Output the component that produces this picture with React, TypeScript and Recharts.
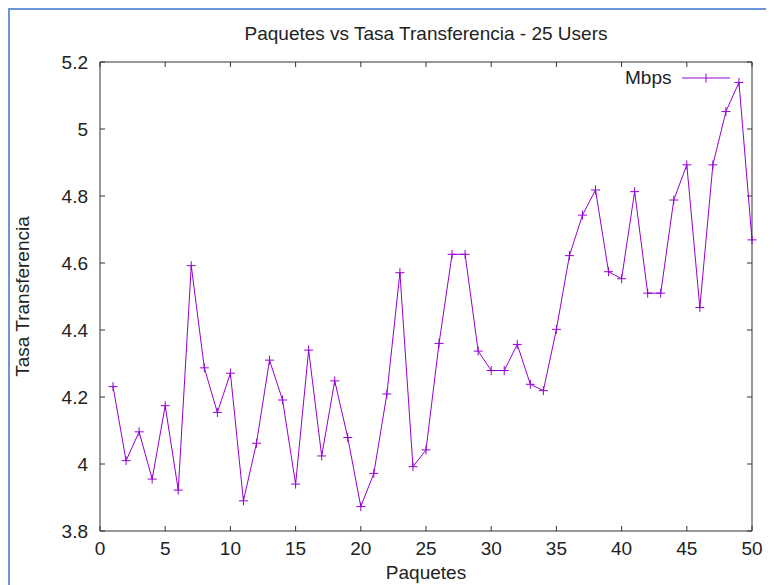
import { LineChart, Line, XAxis, YAxis, Legend } from 'recharts'

const paquetes = [
  1, 2, 3, 4, 5, 6, 7, 8, 9, 10, 11, 12, 13, 14, 15, 16, 17, 18, 19, 20, 21, 22, 23, 24, 25,
  26, 27, 28, 29, 30, 31, 32, 33, 34, 35, 36, 37, 38, 39, 40, 41, 42, 43, 44, 45, 46, 47, 48, 49, 50,
]

const mbps = [
  4.231, 4.01, 4.096, 3.955, 4.174, 3.922, 4.592, 4.287, 4.154, 4.271,
  3.89, 4.062, 4.31, 4.191, 3.94, 4.34, 4.024, 4.248, 4.079, 3.873,
  3.972, 4.209, 4.571, 3.992, 4.042, 4.36, 4.626, 4.626, 4.337, 4.279,
  4.279, 4.357, 4.238, 4.219, 4.402, 4.622, 4.743, 4.818, 4.574, 4.553,
  4.813, 4.51, 4.51, 4.788, 4.893, 4.467, 4.893, 5.052, 5.139, 4.669,
]

const xTicks = [0, 5, 10, 15, 20, 25, 30, 35, 40, 45, 50]
const yTicks = [3.8, 4, 4.2, 4.4, 4.6, 4.8, 5, 5.2]

const TITLE = 'Paquetes vs Tasa Transferencia - 25 Users'
const X_LABEL = 'Paquetes'
const Y_LABEL = 'Tasa Transferencia'
const SERIES_NAME = 'Mbps'

const PURPLE = '#9400d3'
const INK = '#222'
const FRAME = '#333'
const FONT = '"Liberation Sans", Arial, sans-serif'

const data = paquetes.map((p, i) => ({ paquete: p, mbps: mbps[i] }))

// gnuplot-style "+" point marker
function PlusDot(props: any) {
  const { cx, cy, index } = props
  if (cx == null || cy == null) return <g key={index} />
  const s = 4.5
  return (
    <path
      key={index}
      d={`M${cx - s},${cy}H${cx + s}M${cx},${cy - s}V${cy + s}`}
      stroke={PURPLE}
      strokeWidth={1}
      fill="none"
    />
  )
}

function LegendBox() {
  return (
    <div style={{ display: 'flex', alignItems: 'center', height: 20, fontFamily: FONT, fontSize: 19, color: INK }}>
      <span>{SERIES_NAME}</span>
      <svg width={60} height={20} style={{ marginLeft: 8 }}>
        <line x1={3} y1={10} x2={51} y2={10} stroke={PURPLE} strokeWidth={1} />
        <path d="M27,5.5V14.5" stroke={PURPLE} strokeWidth={1} />
      </svg>
    </div>
  )
}

const tickStyle = { fill: INK, fontSize: 19, fontFamily: FONT }
const blank = () => ''

export default function App() {
  return (
    <div style={{ position: 'relative', width: 766, height: 577 }}>
      <div
        style={{
          position: 'absolute',
          inset: 0,
          borderLeft: '2px solid #6b97d8',
          borderTop: '2px solid #6b97d8',
          pointerEvents: 'none',
        }}
      />
      <LineChart width={766} height={577} data={data} margin={{ top: 53, right: 21, bottom: 53, left: 91 }}>
        <XAxis
          dataKey="paquete"
          type="number"
          domain={[0, 50]}
          ticks={xTicks}
          height={1}
          tickSize={-5}
          tickMargin={15.5}
          tick={tickStyle}
          stroke={FRAME}
          label={{
            content: (p: any) => (
              <text
                x={p.viewBox.x + p.viewBox.width / 2}
                y={p.viewBox.y + 48}
                textAnchor="middle"
                fill={INK}
                fontSize={19}
                fontFamily={FONT}
              >
                {X_LABEL}
              </text>
            ),
          }}
        />
        <XAxis
          xAxisId="top"
          orientation="top"
          dataKey="paquete"
          type="number"
          domain={[0, 50]}
          ticks={xTicks}
          height={1}
          tickSize={-5}
          tickFormatter={blank}
          stroke={FRAME}
          label={{
            content: (p: any) => (
              <text
                x={p.viewBox.x + p.viewBox.width / 2}
                y={p.viewBox.y + p.viewBox.height - 22}
                textAnchor="middle"
                fill={INK}
                fontSize={19}
                fontFamily={FONT}
              >
                {TITLE}
              </text>
            ),
          }}
        />
        <YAxis
          type="number"
          domain={[3.8, 5.2]}
          ticks={yTicks}
          width={1}
          tickSize={-5}
          tickMargin={17}
          tick={tickStyle}
          stroke={FRAME}
          tickFormatter={(v: number) => String(v)}
          label={{
            content: (p: any) => {
              const x = p.viewBox.x + p.viewBox.width - 71
              const y = p.viewBox.y + p.viewBox.height / 2
              return (
                <text
                  x={x}
                  y={y}
                  transform={`rotate(-90, ${x}, ${y})`}
                  textAnchor="middle"
                  fill={INK}
                  fontSize={19}
                  fontFamily={FONT}
                >
                  {Y_LABEL}
                </text>
              )
            },
          }}
        />
        <YAxis
          yAxisId="right"
          orientation="right"
          type="number"
          domain={[3.8, 5.2]}
          ticks={yTicks}
          width={1}
          tickSize={-5}
          tickFormatter={blank}
          stroke={FRAME}
        />
        <Legend
          layout="vertical"
          align="center"
          verticalAlign="middle"
          wrapperStyle={{ top: 60, left: 617, width: 'auto' }}
          content={() => <LegendBox />}
        />
        <Line
          type="linear"
          dataKey="mbps"
          name={SERIES_NAME}
          stroke={PURPLE}
          strokeWidth={1}
          dot={PlusDot}
          activeDot={false}
          isAnimationActive={false}
        />
        <Line
          xAxisId="top"
          yAxisId="right"
          dataKey="mbps"
          stroke="none"
          dot={false}
          activeDot={false}
          legendType="none"
          isAnimationActive={false}
        />
      </LineChart>
    </div>
  )
}
